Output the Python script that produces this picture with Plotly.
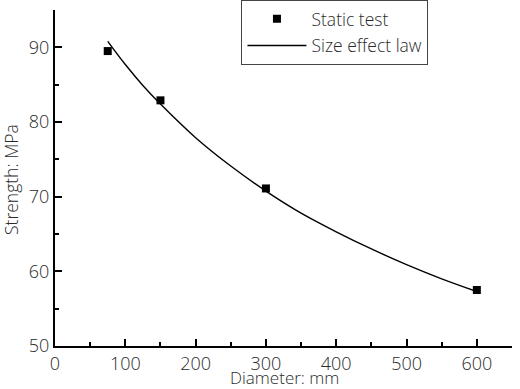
import plotly.graph_objects as go

# Measured data (static test)
diam_test = [75, 150, 300, 600]
strength_test = [89.5, 82.9, 71.1, 57.5]

# Size effect law curve
diam_law = [75, 100, 125, 150, 200, 250, 300, 350, 400, 450, 500, 550, 600]
strength_law = [90.8, 87.7, 84.9, 82.4, 77.9, 74.1, 70.75, 67.8, 65.3, 63.0, 60.9, 59.0, 57.3]

x_ticks = [0, 100, 200, 300, 400, 500, 600]
y_ticks = [50, 60, 70, 80, 90]

x_title = "Diameter: mm"
y_title = "Strength: MPa"

FONT = "Open Sans"
TXT = "#2a2a2a"
W, H = 520, 389
ML, MR, MT, MB = 55, 8, 10, 43

fig = go.Figure()
fig.add_trace(go.Scatter(
    x=diam_test, y=strength_test, mode="markers", name="Static test",
    legendgroup="a",
    marker=dict(symbol="square", size=8, color="black"),
))
fig.add_trace(go.Scatter(
    x=diam_law, y=strength_law, mode="lines", name="Size effect law",
    legendgroup="b",
    line=dict(color="black", width=1.4, shape="spline"),
))

axis_common = dict(
    showline=True, linecolor="black", linewidth=2,
    ticks="inside", ticklen=7, tickwidth=2, tickcolor="black",
    showgrid=False, zeroline=False, mirror=False, automargin=False,
    tickfont=dict(family=FONT, size=18, color=TXT, weight=300),
)

pw = W - ML - MR
ph = H - MT - MB
title_font = dict(family=FONT, size=17, color=TXT, weight=300)
ytitle_font = dict(family=FONT, size=17.5, color=TXT, weight=300)

fig.update_layout(
    width=W, height=H,
    margin=dict(l=ML, r=MR, t=MT, b=MB, autoexpand=False),
    paper_bgcolor="white", plot_bgcolor="white",
    font=dict(family=FONT, color=TXT),
    showlegend=True,
    legend=dict(
        x=0.408, y=1.03, xanchor="left", yanchor="top",
        bordercolor="#444", borderwidth=1, bgcolor="white",
        font=dict(family=FONT, size=17.5, color=TXT, weight=300),
        tracegroupgap=1, itemwidth=59,
    ),
    xaxis=dict(
        range=[0, 650], tickvals=x_ticks,
        minor=dict(ticks="inside", ticklen=4, tickwidth=1.5, tickcolor="black", dtick=50, tick0=0),
        **axis_common,
    ),
    yaxis=dict(
        range=[50, 95], tickvals=y_ticks,
        minor=dict(ticks="inside", ticklen=4, tickwidth=1.5, tickcolor="black", dtick=5, tick0=50),
        **axis_common,
    ),
    annotations=[
        dict(text=x_title, xref="paper", yref="paper",
             x=(284 - ML) / pw, y=-(377.5 - (H - MB)) / ph,
             xanchor="center", yanchor="middle", showarrow=False, font=title_font),
        dict(text=y_title, xref="paper", yref="paper",
             x=-(ML - 11) / pw, y=((H - MB) - 180) / ph, textangle=-90,
             xanchor="center", yanchor="middle", showarrow=False, font=ytitle_font),
    ],
)

fig.write_html("out.html")
